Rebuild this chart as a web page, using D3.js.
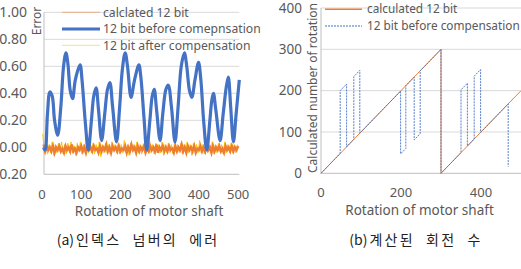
<!DOCTYPE html>
<html><head><meta charset="utf-8">
<script src="https://cdn.jsdelivr.net/npm/d3@7"></script>
<style>
html,body{margin:0;padding:0;background:#fff;}
svg{display:block;}
text{font-family:"Noto Sans","Open Sans",sans-serif;fill:#595959;}
.cap{font-family:"Noto Sans CJK KR",sans-serif;fill:#222;}
</style></head>
<body>
<script>
// ---------- Chart (a) data ----------
const aYTicks = [-0.2, 0, 0.2, 0.4, 0.6, 0.8, 1.0];
const aXTicks = [0, 100, 200, 300, 400, 500];
const aBeforeX = [4,8,14,20,26,32,40,48,55,61,66,72,78,85,97,102,110,118,126,132,138,144,152,160,167,173,180,190,198,205,212,218,227,236,247,252,260,267,275,281,286,292,301,308,316,322,330,339,347,355,363,369,376,382,390,399,405,412,420,428,433,437,443,454,462,470,475,481,488,495,503];
const aBeforeY = [0.00,-0.02,0.25,0.41,0.38,0.20,0.09,0.30,0.60,0.70,0.62,0.42,0.36,0.50,0.61,0.50,0.20,-0.02,0.20,0.38,0.44,0.28,0.05,0.25,0.43,0.48,0.30,0.04,0.30,0.58,0.70,0.60,0.37,0.50,0.61,0.52,0.22,-0.02,0.20,0.38,0.43,0.28,0.05,0.25,0.43,0.46,0.30,0.04,0.30,0.60,0.70,0.60,0.42,0.37,0.50,0.63,0.50,0.20,-0.02,0.20,0.35,0.40,0.28,0.05,0.25,0.45,0.52,0.30,0.04,0.25,0.50];
// calculated 12 bit error, sampled every 4 units from x=4
const aCalcY = [0.02,-0.03,0.01,-0.02,0.00,-0.03,0.01,-0.04,0.00,-0.02,
0.01,-0.03,-0.01,-0.04,0.01,-0.02,0.00,-0.03,0.02,-0.03,
-0.01,-0.04,0.00,-0.02,0.01,-0.03,0.00,-0.04,0.01,-0.02,
0.00,-0.03,0.01,-0.02,-0.01,-0.04,0.01,-0.03,0.00,-0.02,
0.02,-0.03,0.00,-0.04,0.01,-0.02,0.00,-0.03,0.01,-0.03,
-0.01,-0.02,0.01,-0.04,0.00,-0.03,0.02,-0.02,0.00,-0.04,
0.01,-0.03,0.00,-0.02,0.01,-0.04,-0.01,-0.03,0.01,-0.02,
0.00,-0.03,0.02,-0.04,0.00,-0.02,0.01,-0.03,0.00,-0.03,
0.01,-0.02,-0.01,-0.04,0.01,-0.03,0.00,-0.02,0.02,-0.03,
0.00,-0.04,0.01,-0.02,0.00,-0.03,0.01,-0.04,-0.01,-0.02,
0.01,-0.03,0.00,-0.03,0.02,-0.02,0.00,-0.04,0.01,-0.03,
0.00,-0.02,0.01,-0.03,-0.01,-0.04,0.01,-0.02,0.00,-0.03,
0.01,-0.03,0.00,-0.02,0.01];
// after compensation error, sampled every 4 units from x=2
const aAfterY = [0.10,-0.04,0.03,-0.05,0.02,-0.04,0.04,-0.06,0.02,-0.04,
0.03,-0.03,0.04,-0.05,0.02,-0.05,0.03,-0.04,0.04,-0.04,
0.01,-0.06,0.03,-0.03,0.04,-0.05,0.02,-0.04,0.05,-0.04,
0.02,-0.04,0.03,-0.05,0.02,-0.04,0.04,-0.07,0.02,-0.04,
0.03,-0.04,0.02,-0.05,0.04,-0.03,0.02,-0.04,0.03,-0.05,
0.02,-0.04,0.05,-0.04,0.02,-0.06,0.03,-0.03,0.02,-0.04,
0.04,-0.04,0.02,-0.05,0.02,-0.04,0.03,-0.03,0.05,-0.04,
0.02,-0.05,0.03,-0.04,0.02,-0.04,0.04,-0.06,0.02,-0.04,
0.03,-0.04,0.02,-0.05,0.04,-0.03,0.02,-0.04,0.03,-0.05,
0.02,-0.04,0.04,-0.04,0.02,-0.06,0.03,-0.03,0.02,-0.04,
0.05,-0.04,0.02,-0.05,0.03,-0.04,0.02,-0.04,0.04,-0.05,
0.02,-0.04,0.03,-0.03,0.02,-0.05,0.04,-0.04,0.02,-0.04,
0.03,-0.04,0.02,-0.04,0.02];
const aLegend = ["calclated 12 bit", "12 bit before comepnsation", "12 bit after compensation"];

// ---------- Chart (b) data ----------
const bYTicks = [0, 100, 200, 300, 400];
const bXTicks = [0, 200, 400];
const bCalcX = [0, 300, 300, 500];
const bCalcY = [0, 300, 0, 200];
const bBeforeX = [0,48,48,64,64,82,82,97,97,199,199,212,212,233,233,248,248,300,300,350,350,366,366,383,383,399,399,468,468];
const bBeforeY = [0,48,200,216,64,82,234,249,97,199,47,60,212,233,81,96,248,300,0,50,202,218,66,83,235,251,99,168,16];
const bLegend = ["calculated 12 bit", "12 bit before compensation"];

const captions = ["(a)인덱스 넘버의 에러", "(b)계산된 회전 수"];

const colBlue = "#4472C4", colOrange = "#ED7D31", colYellow = "#FFC000", colGrid = "#d9d9d9";

const svg = d3.select("body").append("svg").attr("width", 521).attr("height", 269);

// ================= Chart (a) =================
const xA = d3.scaleLinear().domain([0, 503]).range([42, 239.3]);
const yA = d3.scaleLinear().domain([-0.2, 1.0]).range([174.3, 12.3]);
const gA = svg.append("g");
gA.append("g").selectAll("line").data(aYTicks).join("line")
  .attr("x1", 44).attr("x2", xA(503)).attr("y1", d => yA(d)).attr("y2", d => yA(d))
  .attr("stroke", (d,i) => i === 0 ? "#bfbfbf" : colGrid).attr("stroke-width", 1);
gA.append("line").attr("x1", 44).attr("x2", 44).attr("y1", yA(1.0)).attr("y2", yA(-0.2))
  .attr("stroke", "#bfbfbf");
gA.append("g").selectAll("text").data(aYTicks).join("text")
  .attr("x", 27).attr("y", d => yA(d)).attr("dy", "0.35em").attr("text-anchor", "end")
  .attr("font-size", 14).text(d => d3.format(".2f")(d));
gA.append("g").selectAll("text").data(aXTicks).join("text")
  .attr("x", d => xA(d)).attr("y", 194).attr("dy", "0.35em").attr("text-anchor", "middle")
  .attr("font-size", 13).text(d => d);
gA.append("text").attr("x", 149).attr("y", 211).attr("dy", "0.35em").attr("text-anchor", "middle")
  .attr("font-size", 13.5).text("Rotation of motor shaft");
gA.append("text").attr("transform", "translate(37,21) rotate(-90)").attr("text-anchor", "middle")
  .attr("dy", "0.35em").attr("font-size", 12).text("Error");

const lineA = d3.line().x(d => xA(d[0])).y(d => yA(d[1]));
const afterPts = aAfterY.map((v, i) => [2 + 4 * i, v]);
const calcPts = aCalcY.map((v, i) => [4 + 4 * i, v]);
const beforePts = aBeforeX.map((x, i) => [x, aBeforeY[i]]);
gA.append("path").attr("d", lineA(afterPts)).attr("fill", "none").attr("stroke", colYellow).attr("stroke-width", 1);
gA.append("path").attr("d", lineA(calcPts)).attr("fill", "none").attr("stroke", colOrange).attr("stroke-width", 2.4);
gA.append("path").attr("d", lineA.curve(d3.curveCatmullRom.alpha(0.5))(beforePts)).attr("fill", "none")
  .attr("stroke", colBlue).attr("stroke-width", 3.2).attr("stroke-linejoin", "round");

// legend (a)
const legA = gA.append("g");
const legAY = [12.3, 29, 45.3];
legA.selectAll("line").data(aLegend).join("line")
  .attr("x1", 62).attr("x2", 100).attr("y1", (d,i) => legAY[i]).attr("y2", (d,i) => legAY[i])
  .attr("stroke", (d,i) => [colOrange, colBlue, colYellow][i])
  .attr("stroke-width", (d,i) => i === 1 ? 3 : 1)
  .attr("stroke-opacity", (d,i) => i === 1 ? 1 : 0.5);
legA.selectAll("text").data(aLegend).join("text")
  .attr("x", 103).attr("y", (d,i) => legAY[i]).attr("dy", "0.35em").attr("font-size", 12.2).text(d => d);

// ================= Chart (b) =================
const xB = d3.scaleLinear().domain([0, 500]).range([321, 521]);
const yB = d3.scaleLinear().domain([0, 400]).range([173.3, 8]);
const gB = svg.append("g");
gB.append("g").selectAll("line").data(bYTicks).join("line")
  .attr("x1", xB(0)).attr("x2", 521).attr("y1", d => yB(d)).attr("y2", d => yB(d))
  .attr("stroke", (d,i) => i === 0 ? "#bfbfbf" : colGrid);
gB.append("line").attr("x1", xB(0)).attr("x2", xB(0)).attr("y1", yB(400)).attr("y2", yB(0)).attr("stroke", "#bfbfbf");
gB.append("g").selectAll("text").data(bYTicks).join("text")
  .attr("x", 302).attr("y", d => yB(d)).attr("dy", "0.35em").attr("text-anchor", "end")
  .attr("font-size", 13.5).text(d => d);
gB.append("g").selectAll("text").data(bXTicks).join("text")
  .attr("x", d => xB(d)).attr("y", 192).attr("dy", "0.35em").attr("text-anchor", "middle")
  .attr("font-size", 13).text(d => d);
gB.append("text").attr("x", 419.5).attr("y", 210).attr("dy", "0.35em").attr("text-anchor", "middle")
  .attr("font-size", 13.5).text("Rotation of motor shaft");
gB.append("text").attr("transform", "translate(312.5,88) rotate(-90)").attr("text-anchor", "middle")
  .attr("dy", "0.35em").attr("font-size", 12).text("Calculated number of rotation");

const lineB = d3.line().x(d => xB(d[0])).y(d => yB(d[1]));
gB.append("path").attr("d", lineB(bCalcX.map((x,i) => [x, bCalcY[i]]))).attr("fill", "none")
  .attr("stroke", colOrange).attr("stroke-width", 1);
gB.append("path").attr("d", lineB(bBeforeX.map((x,i) => [x, bBeforeY[i]]))).attr("fill", "none")
  .attr("stroke", colBlue).attr("stroke-width", 0.9).attr("stroke-dasharray", "2,1");

const legB = gB.append("g");
const legBY = [9.3, 26];
legB.append("line").attr("x1", 325).attr("x2", 362).attr("y1", legBY[0]).attr("y2", legBY[0])
  .attr("stroke", colOrange).attr("stroke-width", 1.5);
legB.append("line").attr("x1", 325).attr("x2", 362).attr("y1", legBY[1]).attr("y2", legBY[1])
  .attr("stroke", colBlue).attr("stroke-width", 1).attr("stroke-dasharray", "2,1");
legB.selectAll("text").data(bLegend).join("text")
  .attr("x", 367).attr("y", (d,i) => legBY[i]).attr("dy", "0.35em").attr("font-size", 11.8).text(d => d);

// ================= Captions =================
const capText = svg.selectAll("text.cap").data(captions).join("text").attr("class", "cap")
  .attr("x", (d,i) => [138, 416][i]).attr("y", 240).attr("dy", "0.35em").attr("text-anchor", "middle")
  .attr("font-size", 14);
capText.append("tspan").text(d => d.slice(0, d.indexOf(")") + 1));
capText.append("tspan").attr("dx", 2).attr("letter-spacing", 2.2).attr("word-spacing", 6)
  .text(d => d.slice(d.indexOf(")") + 1));
</script>
</body></html>
